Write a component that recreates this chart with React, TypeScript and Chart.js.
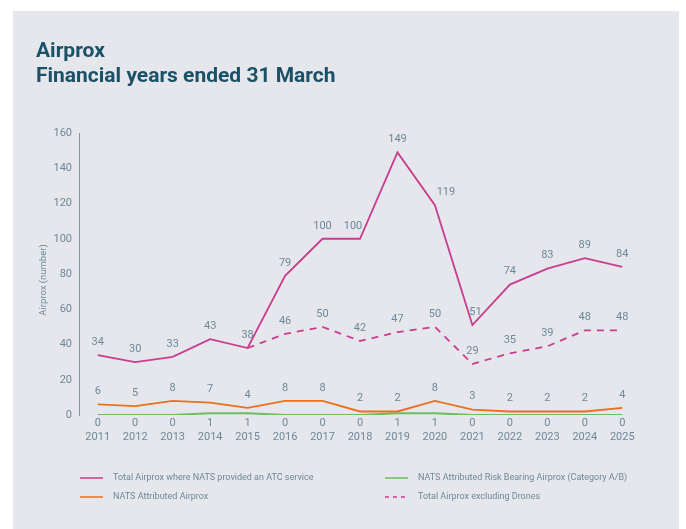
import React, { useEffect, useRef } from 'react';
import { Chart, registerables } from 'chart.js';

Chart.register(...registerables);

const years = ['2011', '2012', '2013', '2014', '2015', '2016', '2017', '2018', '2019', '2020', '2021', '2022', '2023', '2024', '2025'];
const totalAtc = [34, 30, 33, 43, 38, 79, 100, 100, 149, 119, 51, 74, 83, 89, 84];
const natsAttributed = [6, 5, 8, 7, 4, 8, 8, 2, 2, 8, 3, 2, 2, 2, 4];
const riskBearing = [0, 0, 0, 1, 1, 0, 0, 0, 1, 1, 0, 0, 0, 0, 0];
const excludingDrones = [null, null, null, null, 38, 46, 50, 42, 47, 50, 29, 35, 39, 48, 48];
const yTickValues = [0, 20, 40, 60, 80, 100, 120, 140, 160];

const titleLines = ['Airprox', 'Financial years ended 31 March'];
const yTitle = 'Airprox (number)';

const PINK = '#c93d8e';
const ORANGE = '#ec6f1c';
const GREEN = '#6cbd5f';
const TEXT = '#6d8898';
const TITLE = '#1b5166';
const PANEL = '#e6e7ec';
const FONT = 'Roboto, "Noto Sans", sans-serif';

// label nudges (style only)
const nudges: Record<string, [number, number]> = {
  '0:9': [11, 0],
  '0:7': [-7, 0],
  '0:10': [3, 0],
};

const decorPlugin = {
  id: 'decor',
  beforeDraw(chart: any) {
    const ctx = chart.ctx;
    ctx.save();
    ctx.fillStyle = '#ffffff';
    ctx.fillRect(0, 0, chart.width, chart.height);
    ctx.fillStyle = PANEL;
    ctx.fillRect(13, 11, 666, chart.height - 11);
    ctx.fillStyle = TITLE;
    ctx.font = `bold 21px ${FONT}`;
    ctx.textBaseline = 'alphabetic';
    ctx.textAlign = 'left';
    ctx.fillText(titleLines[0], 36, 57);
    ctx.fillText(titleLines[1], 36, 82);
    // y title
    ctx.fillStyle = TEXT;
    ctx.font = `9.5px ${FONT}`;
    ctx.translate(44, 280);
    ctx.rotate(-Math.PI / 2);
    ctx.textAlign = 'center';
    ctx.textBaseline = 'middle';
    ctx.fillText(yTitle, 0, 0);
    ctx.restore();
  },
  afterDatasetsDraw(chart: any) {
    const ctx = chart.ctx;
    ctx.save();
    ctx.fillStyle = TEXT;
    ctx.font = `11px ${FONT}`;
    ctx.textAlign = 'center';
    ctx.textBaseline = 'middle';
    chart.data.datasets.forEach((ds: any, di: number) => {
      if (!ds.showValues) return;
      const meta = chart.getDatasetMeta(di);
      meta.data.forEach((pt: any, i: number) => {
        const v = ds.data[i];
        if (v === null || v === undefined) return;
        if (ds.skipLabel && ds.skipLabel.includes(i)) return;
        const n = nudges[`${di}:${i}`] || [0, 0];
        ctx.fillText(String(v), pt.x + n[0], pt.y - 13 + n[1]);
      });
    });
    ctx.restore();
  },
  afterDraw(chart: any) {
    const ctx = chart.ctx;
    ctx.save();
    ctx.font = `9px ${FONT}`;
    ctx.textBaseline = 'middle';
    ctx.textAlign = 'left';
    const items = [
      { label: 'Total Airprox where NATS provided an ATC service', color: PINK, dash: [], x: 80, y: 478 },
      { label: 'NATS Attributed Risk Bearing Airprox (Category A/B)', color: GREEN, dash: [], x: 385, y: 478 },
      { label: 'NATS Attributed Airprox', color: ORANGE, dash: [], x: 80, y: 497 },
      { label: 'Total Airprox excluding Drones', color: PINK, dash: [4, 4], x: 385, y: 497 },
    ];
    items.forEach((it) => {
      ctx.strokeStyle = it.color;
      ctx.lineWidth = 1.5;
      ctx.setLineDash(it.dash);
      ctx.beginPath();
      ctx.moveTo(it.x, it.y);
      ctx.lineTo(it.x + 23, it.y);
      ctx.stroke();
      ctx.setLineDash([]);
      ctx.fillStyle = TEXT;
      ctx.fillText(it.label, it.x + 33, it.y);
    });
    ctx.restore();
  },
};

export default function App() {
  const ref = useRef<HTMLCanvasElement | null>(null);
  useEffect(() => {
    if (!ref.current) return;
    const chart = new Chart(ref.current, {
      type: 'line',
      data: {
        labels: years.map((y, i) => [String(riskBearing[i]), y]),
        datasets: [
          {
            label: 'Total Airprox where NATS provided an ATC service',
            data: totalAtc,
            borderColor: PINK,
            borderWidth: 1.8,
            pointRadius: 0,
            showValues: true,
          } as any,
          {
            label: 'NATS Attributed Airprox',
            data: natsAttributed,
            borderColor: ORANGE,
            borderWidth: 1.8,
            pointRadius: 0,
            showValues: true,
          } as any,
          {
            label: 'NATS Attributed Risk Bearing Airprox (Category A/B)',
            data: riskBearing,
            borderColor: GREEN,
            borderWidth: 2,
            pointRadius: 0,
          } as any,
          {
            label: 'Total Airprox excluding Drones',
            data: excludingDrones,
            borderColor: PINK,
            borderWidth: 1.8,
            borderDash: [7, 6],
            pointRadius: 0,
            showValues: true,
            skipLabel: [4],
          } as any,
        ],
      },
      options: {
        animation: false,
        responsive: false,
        devicePixelRatio: 1,
        layout: { padding: { left: 0, right: 45, top: 133, bottom: 0 } },
        plugins: { legend: { display: false }, tooltip: { enabled: false }, title: { display: false } },
        scales: {
          x: {
            offset: true,
            grid: { display: false, drawTicks: false },
            border: { display: false },
            ticks: { color: TEXT, font: { family: FONT, size: 11 }, padding: 2, maxRotation: 0, autoSkip: false },
            afterFit: (s: any) => { s.height = 114; },
          },
          y: {
            min: 0,
            max: 160,
            grid: { display: false, drawTicks: false },
            border: { display: true, color: '#8796a0', width: 1 },
            ticks: { color: TEXT, font: { family: FONT, size: 11 }, padding: 7 },
            afterBuildTicks: (s: any) => { s.ticks = yTickValues.map((v) => ({ value: v })); },
            afterFit: (s: any) => { s.width = 79; },
          },
        },
      } as any,
      plugins: [decorPlugin],
    });
    return () => chart.destroy();
  }, []);
  return (
    <div style={{ position: 'absolute', left: 0, top: 0, width: 686, height: 529 }}>
      <canvas ref={ref} width={686} height={529} style={{ display: 'block' }} />
    </div>
  );
}
